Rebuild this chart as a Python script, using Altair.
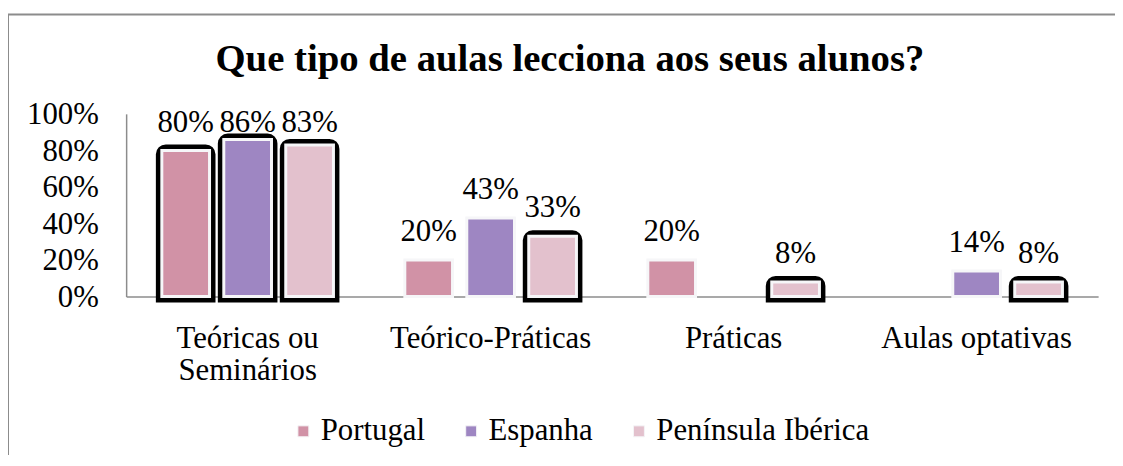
import altair as alt
import pandas as pd

# ---- data ----
categories = ["Teóricas ou Seminários", "Teórico-Práticas", "Práticas", "Aulas optativas"]
series = ["Portugal", "Espanha", "Península Ibérica"]
portugal = [0.80, 0.20, 0.20, 0.0]
espanha = [0.86, 0.43, 0.0, 0.14]
peninsula = [0.83, 0.33, 0.08, 0.08]
colors = ["#D192A6", "#9E86C2", "#E3C1CD"]
y_ticks = [0, 0.2, 0.4, 0.6, 0.8, 1.0]
title_text = "Que tipo de aulas lecciona aos seus alunos?"

rows = []
for s, vals in zip(series, [portugal, espanha, peninsula]):
    for c, v in zip(categories, vals):
        rows.append({"category": c, "series": s, "value": v})
df = pd.DataFrame(rows)

FONT = "Liberation Serif"
GRAY = "#8c8c8c"

x_enc = alt.X(
    "category:N",
    sort=categories,
    scale=alt.Scale(paddingInner=0.235, paddingOuter=0.1175),
    axis=alt.Axis(
        title=None, labelAngle=0, ticks=False, grid=False,
        labelFont=FONT, labelFontSize=31, labelColor="black",
        labelPadding=27, labelLineHeight=33, labelLimit=400,
        domainColor=GRAY, domainWidth=1.5,
        labelExpr="datum.value == 'Teóricas ou Seminários' ? ['Teóricas ou', 'Seminários'] : datum.value",
    ),
)
xoff_enc = alt.XOffset("series:N", sort=series,
                       scale=alt.Scale(paddingInner=0.23, paddingOuter=0.115))
y_axis = alt.Axis(
    title=None, values=y_ticks, format=".0%", ticks=False, grid=False,
    labelFont=FONT, labelFontSize=31, labelColor="black",
    labelPadding=28, labelOffset=1,
    domainColor=GRAY, domainWidth=1.5,
)
y_enc = alt.Y("value:Q", scale=alt.Scale(domain=[0, 1]), axis=y_axis)
color_enc = alt.Color(
    "series:N", sort=series,
    scale=alt.Scale(domain=series, range=colors),
    legend=alt.Legend(
        title=None, orient="none", direction="horizontal",
        legendX=163, legendY=304, padding=0,
        symbolType="square", symbolSize=121, symbolStrokeWidth=1,
        symbolStrokeColor="#f4f4f6",
        labelFont=FONT, labelFontSize=31, labelColor="black",
        labelOffset=2, columnPadding=30, labelLimit=400,
    ),
)

base = alt.Chart(df).transform_filter("datum.value > 0")

frames = base.transform_filter(
    "datum.category == 'Teóricas ou Seminários' || datum.series == 'Península Ibérica'"
).mark_bar(
    color="black", stroke="black", strokeWidth=12,
    cornerRadiusTopLeft=4, cornerRadiusTopRight=4,
    xOffset=-4, yOffset=1, y2Offset=-3,
).encode(x=x_enc, xOffset=xoff_enc, y=y_enc)

bars = base.mark_bar(stroke="#f6f6f8", strokeWidth=3).encode(
    x=x_enc, xOffset=xoff_enc, y=y_enc, color=color_enc
)

labels = base.transform_calculate(
    label_y="min(datum.value, 0.8)"
).mark_text(
    font=FONT, fontSize=31, color="black", baseline="alphabetic", dy=-19
).encode(
    x=x_enc, xOffset=xoff_enc,
    y=alt.Y("label_y:Q", scale=alt.Scale(domain=[0, 1]), axis=y_axis),
    text=alt.Text("value:Q", format=".0%"),
)

frame_box = alt.Chart(pd.DataFrame({"k": [0]})).mark_rect(
    fillOpacity=0, stroke=GRAY, strokeWidth=2
).encode(
    x=alt.value(-119), x2=alt.value(1300), y=alt.value(-100), y2=alt.value(700)
)

title = alt.Chart(pd.DataFrame({"t": [title_text]})).mark_text(
    font=FONT, fontSize=39, fontWeight="bold", color="black",
    baseline="alphabetic", align="center",
).encode(text="t:N", x=alt.value(447), y=alt.value(-43))

chart = alt.layer(frame_box, frames, bars, labels, title).properties(
    width=979, height=184,
    background="white",
    autosize=alt.AutoSizeParams(type="none"),
    padding={"left": 119, "top": 105, "right": 17, "bottom": 158},
).configure_view(stroke=None)

chart.save("out.html", embed_options={"renderer": "svg", "actions": False})
